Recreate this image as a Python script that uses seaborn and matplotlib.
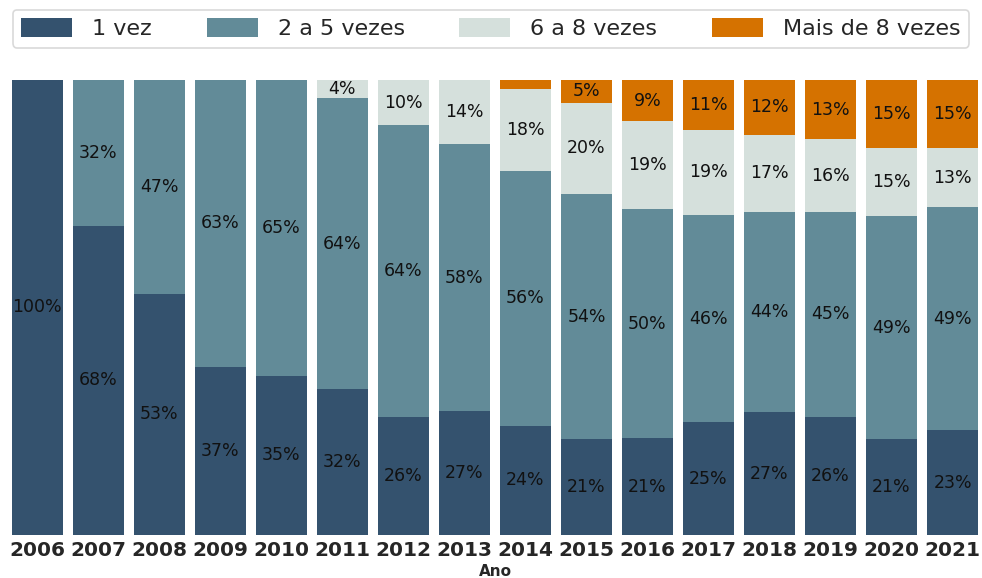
import numpy as np
import pandas as pd
import matplotlib.pyplot as plt
import seaborn as sns
from matplotlib.patches import Patch

# data
anos = [str(a) for a in range(2006, 2022)]
uma_vez = [100, 68, 53, 37, 35, 32, 26, 27, 24, 21, 21, 25, 27, 26, 21, 23]
dois_a_cinco = [0, 32, 47, 63, 65, 64, 64, 58, 56, 54, 50, 46, 44, 45, 49, 49]
seis_a_oito = [0, 0, 0, 0, 0, 4, 10, 14, 18, 20, 19, 19, 17, 16, 15, 13]
mais_de_oito = [0, 0, 0, 0, 0, 0, 0, 0, 2, 5, 9, 11, 12, 13, 15, 15]

series = ['1 vez', '2 a 5 vezes', '6 a 8 vezes', 'Mais de 8 vezes']
valores = [uma_vez, dois_a_cinco, seis_a_oito, mais_de_oito]
cores = ['#34526e', '#628b98', '#d5e0dc', '#d57200']

sns.set_style('white')
plt.rcParams['font.family'] = ['DejaVu Sans']

fig = plt.figure(figsize=(9.82, 5.78), dpi=100)
ax = fig.add_axes([0.010, 0.0744, 0.988, 0.7872])

total = np.array([sum(v[i] for v in valores) for i in range(len(anos))], dtype=float)
base = np.zeros(len(anos))
for nome, vals, cor in zip(series, valores, cores):
    vals = np.array(vals, dtype=float)
    frac = vals / total * 100
    df = pd.DataFrame({'Ano': anos, 'v': frac})
    sns.barplot(data=df, x='Ano', y='v', color=cor, bottom=base, width=0.84,
                saturation=1, ax=ax, edgecolor='none')
    for i, (f, v) in enumerate(zip(frac, vals)):
        if v >= 3:
            ax.text(i, base[i] + f / 2, f'{int(v)}%', ha='center', va='center',
                    fontsize=12.5, color='#111111')
    base = base + frac

ax.set_xlim(-0.45, 15.45)
ax.set_ylim(0, 100)
ax.set_yticks([])
ax.set_ylabel('')
ax.set_xlabel('Ano', fontsize=11, fontweight='bold', labelpad=3)
ax.tick_params(axis='x', length=0, pad=4)
for lbl in ax.get_xticklabels():
    lbl.set_fontsize(14.5)
    lbl.set_fontweight('bold')
sns.despine(ax=ax, left=True, bottom=True)

handles = [Patch(facecolor=c, edgecolor='none') for c in cores]
leg = fig.legend(handles, series, loc='upper center', bbox_to_anchor=(0.5, 0.983),
                 borderaxespad=0, ncol=4, fontsize=16, frameon=True,
                 handlelength=2.3, handleheight=0.9, handletextpad=0.9,
                 columnspacing=2.45, borderpad=0.38, fancybox=True,
                 edgecolor='#d0d0d0')
leg.get_frame().set_linewidth(1.2)

fig.savefig('out.png', dpi=100)
